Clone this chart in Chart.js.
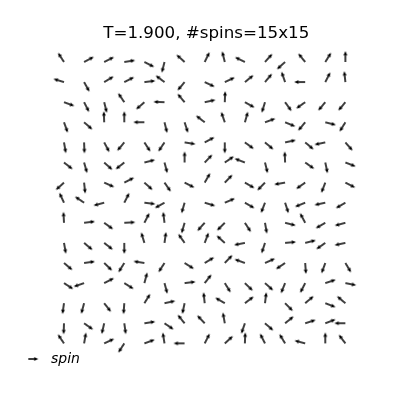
<!DOCTYPE html>
<html>
<head>
<meta charset="UTF-8">
<title>Spin configuration</title>
<script src="https://cdn.jsdelivr.net/npm/chart.js"></script>
<style>
  body { margin: 0; background: #fff; }
  #wrap { width: 400px; height: 400px; }
</style>
</head>
<body>
<div id="wrap"><canvas id="spinChart" width="400" height="400"></canvas></div>
<script>
// lattice columns / rows (row 0 = top row of the picture)
const cols = [0, 1, 2, 3, 4, 5, 6, 7, 8, 9, 10, 11, 12, 13, 14];
const rows = [0, 1, 2, 3, 4, 5, 6, 7, 8, 9, 10, 11, 12, 13, 14];
const titleText = 'T=1.900, #spins=15x15';
const keyLabel = 'spin';

// spin direction in degrees (0 = right, 90 = up), one list per row
const spinAngles = [
  [123, 28, 27, 9, -27, -104, 138, 64, 104, 154, 48, -138, 129, 58, 90],
  [163, -61, 31, 27, 7, 143, -130, -25, 25, 39, 50, 109, 180, 63, 96],
  [-20, -63, -76, 124, -139, 178, 130, 12, 88, -29, -107, -54, -145, -130, -130],
  [-70, -41, 92, 90, 180, -76, -72, 142, 109, 74, 20, -22, -130, -14, -122],
  [-80, -88, -62, -130, -57, -124, -9, 28, -90, -36, -40, 12, -40, -168, -49],
  [-38, -74, -42, -142, 14, -75, 90, 46, 34, 159, -76, 92, -35, -78, -21],
  [-138, -84, -24, 27, -42, -55, -27, 60, 46, -30, -134, -170, -145, -111, -27],
  [115, 146, -165, 63, -7, -151, -106, -17, 23, -30, -111, -72, -158, -168, -150],
  [93, 7, -36, 3, 63, 97, -106, -132, -135, -57, -80, -14, 118, -150, -165],
  [-80, -40, -38, -90, 107, 82, 125, 69, 138, -169, -108, 5, 14, -145, -168],
  [-40, 8, -44, -122, 171, -123, -32, 31, 46, 160, 24, -146, -86, -110, -59],
  [-33, -161, 27, -32, 75, -75, 7, 52, -58, -44, -42, -112, -117, 18, -11],
  [-98, -105, -52, -94, 58, 12, -102, 96, 150, 37, 83, -45, 40, -21, 140],
  [-92, -35, -103, -82, 9, -34, 129, 133, 100, -109, -41, 39, 18, 21, 180],
  [124, 80, 25, -123, 20, 99, 180, 63, 42, 88, 117, 121, 165, 90, 127]
];

// arrow sprite, tail at the centre of the canvas so rotation pivots on the tail
function makeArrow(len, shaft, headLen, headAxis, headHalf, centred) {
  const size = centred ? len + 2 : Math.ceil(len * 2 + 4);
  const c = document.createElement('canvas');
  c.width = size;
  c.height = centred ? 8 : size;
  const g = c.getContext('2d');
  const x0 = centred ? 1 : size / 2;
  const cy = c.height / 2;
  g.fillStyle = '#000';
  g.beginPath();
  g.moveTo(x0, cy - shaft / 2);
  g.lineTo(x0 + len - headAxis, cy - shaft / 2);
  g.lineTo(x0 + len - headLen, cy - headHalf);
  g.lineTo(x0 + len, cy);
  g.lineTo(x0 + len - headLen, cy + headHalf);
  g.lineTo(x0 + len - headAxis, cy + shaft / 2);
  g.lineTo(x0, cy + shaft / 2);
  g.closePath();
  g.fill();
  return c;
}

const arrow = makeArrow(11, 1.45, 4.6, 4.1, 2.1, false);
const keyArrow = makeArrow(10, 1.45, 4.3, 3.9, 2.0, true);

const points = [];
rows.forEach(j => {
  cols.forEach(i => {
    points.push({ x: i, y: j, a: spinAngles[j][i] });
  });
});

new Chart(document.getElementById('spinChart'), {
  type: 'scatter',
  data: {
    datasets: [{
      label: keyLabel,
      data: points,
      pointStyle: arrow,
      rotation: ctx => (ctx.raw ? -ctx.raw.a : 0),
      radius: 8,
      hoverRadius: 8,
      clip: false
    }]
  },
  options: {
    responsive: false,
    animation: false,
    devicePixelRatio: 1,
    events: [],
    layout: { autoPadding: false, padding: { left: 12.6, right: 0, top: 0, bottom: 24 } },
    scales: {
      x: { type: 'linear', display: false, bounds: 'data', min: -2.557, max: 16.717 },
      y: { type: 'linear', display: false, bounds: 'data', reverse: true, min: -0.8935, max: 13.930 }
    },
    plugins: {
      title: {
        display: true,
        text: titleText,
        color: '#000',
        font: { family: 'DejaVu Sans', size: 16.7, weight: 'normal' },
        padding: { top: 24, bottom: 0 }
      },
      legend: {
        display: true,
        position: 'bottom',
        align: 'start',
        labels: {
          usePointStyle: true,
          pointStyleWidth: 21.4,
          padding: 10,
          color: '#000',
          font: { family: 'DejaVu Sans', size: 14, style: 'italic' },
          generateLabels: () => [{
            text: keyLabel,
            pointStyle: keyArrow,
            rotation: 0,
            fillStyle: '#000',
            strokeStyle: '#000',
            lineWidth: 0,
            hidden: false,
            datasetIndex: 0
          }]
        }
      },
      tooltip: { enabled: false }
    }
  }
});
</script>
</body>
</html>
